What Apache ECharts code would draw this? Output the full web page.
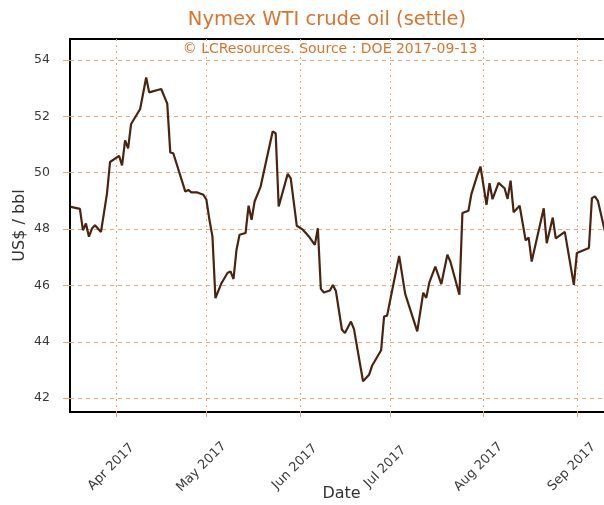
<!DOCTYPE html>
<html>
<head>
<meta charset="utf-8">
<script src="https://cdn.jsdelivr.net/npm/echarts@6/dist/echarts.min.js"></script>
<style>
html,body{margin:0;padding:0;background:#fff;}
#chart{width:604px;height:505px;}
</style>
</head>
<body>
<div id="chart"></div>
<script>
// ---- data ----
var dates = [
 '2017-03-17','2017-03-20','2017-03-21','2017-03-22','2017-03-23','2017-03-24','2017-03-25','2017-03-27','2017-03-29','2017-03-30',
 '2017-04-02','2017-04-03','2017-04-04','2017-04-05','2017-04-06','2017-04-09','2017-04-11','2017-04-12','2017-04-16','2017-04-18',
 '2017-04-19','2017-04-20','2017-04-24','2017-04-25','2017-04-26','2017-04-28','2017-04-30','2017-05-01','2017-05-02','2017-05-03',
 '2017-05-04','2017-05-06','2017-05-08','2017-05-09','2017-05-10','2017-05-11','2017-05-12','2017-05-14','2017-05-15','2017-05-16',
 '2017-05-17','2017-05-19','2017-05-23','2017-05-24','2017-05-25','2017-05-28','2017-05-29','2017-05-31','2017-06-02','2017-06-03',
 '2017-06-04','2017-06-06','2017-06-07','2017-06-08','2017-06-09','2017-06-11','2017-06-12','2017-06-13','2017-06-15','2017-06-16',
 '2017-06-18','2017-06-19','2017-06-22','2017-06-24','2017-06-25','2017-06-28','2017-06-29','2017-06-30','2017-07-02','2017-07-04',
 '2017-07-06','2017-07-10','2017-07-12','2017-07-13','2017-07-14','2017-07-16','2017-07-18','2017-07-20','2017-07-21','2017-07-24',
 '2017-07-25','2017-07-27','2017-07-28','2017-07-30','2017-07-31','2017-08-02','2017-08-03','2017-08-04','2017-08-06','2017-08-08',
 '2017-08-09','2017-08-10','2017-08-11','2017-08-13','2017-08-15','2017-08-16','2017-08-17','2017-08-21','2017-08-22','2017-08-24',
 '2017-08-25','2017-08-28','2017-08-31','2017-09-01','2017-09-05','2017-09-06','2017-09-07','2017-09-08','2017-09-11','2017-09-12'
];
var prices = [
 48.79,48.72,47.96,48.20,47.73,48.02,48.14,47.90,49.27,50.38,
 50.60,50.26,51.15,50.86,51.73,52.26,53.38,52.85,52.97,52.45,
 50.72,50.69,49.33,49.39,49.30,49.30,49.22,49.04,48.33,47.74,
 45.55,46.08,46.44,46.50,46.23,47.27,47.80,47.86,48.83,48.33,
 48.98,49.51,51.46,51.40,48.80,49.96,49.80,48.12,47.98,47.86,
 47.74,47.44,48.03,45.88,45.75,45.82,46.02,45.80,44.43,44.31,
 44.72,44.45,42.60,42.83,43.15,43.70,44.90,44.93,46.00,47.05,
 45.70,44.37,45.74,45.56,46.10,46.67,46.05,47.09,46.85,45.67,
 48.57,48.65,49.25,49.93,50.22,48.86,49.63,49.06,49.64,49.45,
 49.07,49.72,48.60,48.83,47.60,47.70,46.85,48.74,47.50,48.41,
 47.67,47.90,46.02,47.15,47.33,49.10,49.16,49.00,47.60,48.20
];
var yTicks = [42, 44, 46, 48, 50, 52, 54];
var xTickDates = ['2017-04-01','2017-05-01','2017-06-01','2017-07-01','2017-08-01','2017-09-01'];
var monthNames = ['Jan','Feb','Mar','Apr','May','Jun','Jul','Aug','Sep','Oct','Nov','Dec'];
var titleText = 'Nymex WTI crude oil (settle)';
var subText = '\u00A9 LCResources. Source : DOE 2017-09-13';
var xName = 'Date';
var yName = 'US$ / bbl';

function toUTC(s){ var p = s.split('-'); return Date.UTC(+p[0], +p[1]-1, +p[2]); }
var seriesData = dates.map(function(d, i){ return [toUTC(d), prices[i]]; });
var xTicks = xTickDates.map(toUTC);

var orange = '#d9742f';
var gridCol = '#e4a77c';
var chart = echarts.init(document.getElementById('chart'), null, {renderer: 'canvas'});
chart.setOption({
  animation: false,
  backgroundColor: '#ffffff',
  textStyle: { fontFamily: 'DejaVu Sans' },
  title: [
    { text: titleText, left: 327, top: 10, textAlign: 'center', padding: 0,
      textStyle: { color: orange, fontSize: 19.5, fontWeight: 'normal', fontFamily: 'DejaVu Sans' } },
    { text: subText, left: 330, top: 42, textAlign: 'center', padding: 0,
      textStyle: { color: orange, fontSize: 14, fontWeight: 'normal', fontFamily: 'DejaVu Sans' } }
  ],
  grid: { left: 70, top: 39, width: 543, height: 373, show: true, borderColor: '#000', borderWidth: 2,
    containLabel: false, outerBoundsMode: 'none' },
  xAxis: {
    type: 'value',
    min: Date.UTC(2017, 2, 16, 17),
    max: Date.UTC(2017, 8, 13),
    name: xName, nameLocation: 'middle', nameGap: 74, nameMoveOverlap: false,
    nameTextStyle: { color: '#333', fontSize: 16, fontFamily: 'DejaVu Sans' },
    axisLine: { show: false },
    axisTick: { show: true, length: 5, lineStyle: { color: gridCol }, customValues: xTicks },
    axisLabel: { customValues: xTicks, rotate: 45, align: 'center', verticalAlign: 'middle', margin: 50,
      padding: [0, 14, 0, 0],
      color: '#3a3a3a', fontSize: 13, fontFamily: 'DejaVu Sans', showMinLabel: true, showMaxLabel: true,
      formatter: function(v){ var d = new Date(v); return monthNames[d.getUTCMonth()] + ' ' + d.getUTCFullYear(); } },
    splitLine: { show: true, lineStyle: { color: gridCol, type: [2, 4], width: 1 } }
  },
  yAxis: {
    type: 'value', min: 41.51, max: 54.745,
    name: yName, nameLocation: 'middle', nameGap: 42, nameMoveOverlap: false,
    nameTextStyle: { color: '#333', fontSize: 16, fontFamily: 'DejaVu Sans' },
    axisLine: { show: false },
    axisTick: { show: true, length: 7, lineStyle: { color: gridCol }, customValues: yTicks },
    axisLabel: { customValues: yTicks, margin: 20, color: '#3a3a3a', fontSize: 12.5, fontFamily: 'DejaVu Sans',
      formatter: function(v){ return String(Math.round(v)); } },
    splitLine: { show: true, lineStyle: { color: gridCol, type: [4, 4], width: 1 } }
  },
  series: [{
    type: 'line', data: seriesData, showSymbol: false, symbol: 'none',
    lineStyle: { color: '#4a2410', width: 2.2 }, clip: true, z: 5
  }]
});
</script>
</body>
</html>
